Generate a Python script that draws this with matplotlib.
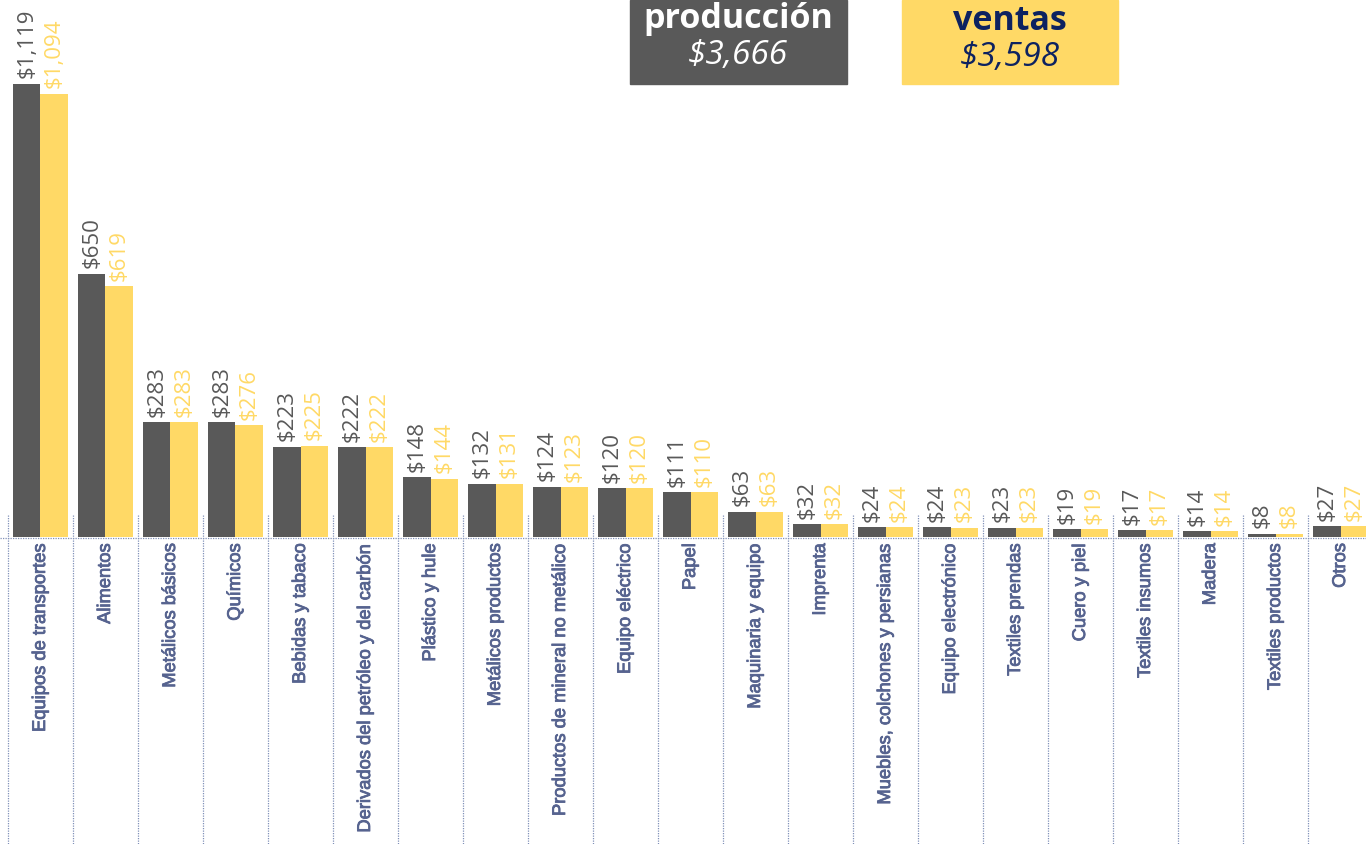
import matplotlib.pyplot as plt
import matplotlib.patheffects as pe
from matplotlib.patches import Rectangle

categorias = ["Equipos de transportes", "Alimentos", "Metálicos básicos", "Químicos",
              "Bebidas y tabaco", "Derivados del petróleo y del carbón", "Plástico y hule",
              "Metálicos productos", "Productos de mineral no metálico", "Equipo eléctrico",
              "Papel", "Maquinaria y equipo", "Imprenta", "Muebles, colchones y persianas",
              "Equipo electrónico", "Textiles prendas", "Cuero y piel", "Textiles insumos",
              "Madera", "Textiles productos", "Otros"]
produccion = [1119, 650, 283, 283, 223, 222, 148, 132, 124, 120, 111, 63, 32, 24, 24, 23, 19, 17, 14, 8, 27]
ventas = [1094, 619, 283, 276, 225, 222, 144, 131, 123, 120, 110, 63, 32, 24, 23, 23, 19, 17, 14, 8, 27]
total_produccion = "$3,666"
total_ventas = "$3,598"

gris = "#595959"
amarillo = "#FFD966"
azul = "#0D2260"
etiqueta = "#56638F"

fig = plt.figure(figsize=(13.66, 8.44), dpi=100)
ax = fig.add_axes([0, 0, 1, 1])
ax.set_xlim(-0.623, 20.392)
ax.set_ylim(-758, 1326)
ax.axis("off")

x = list(range(len(categorias)))
w = 0.42
ax.bar([i - w / 2 for i in x], produccion, w, color=gris)
ax.bar([i + w / 2 for i in x], ventas, w, color=amarillo)

for i in x:
    ax.annotate(f"${produccion[i]:,}", (i - w / 2, produccion[i]), xytext=(0, 4),
                textcoords="offset points", rotation=90, ha="center", va="bottom",
                fontsize=16, color=gris, family="Open Sans")
    ax.annotate(f"${ventas[i]:,}", (i + w / 2, ventas[i]), xytext=(0, 4),
                textcoords="offset points", rotation=90, ha="center", va="bottom",
                fontsize=16, color=amarillo, family="Open Sans")
    ax.text(i, -15, categorias[i], rotation=90, ha="center", va="top",
            fontsize=13.2, color=etiqueta, family="Liberation Sans",
            path_effects=[pe.withStroke(linewidth=0.6, foreground=etiqueta)])
    ax.plot([i - 0.5, i - 0.5], [54, -758], color="#8090B8", lw=0.9, ls=(0, (1, 1)))

ax.plot([-0.623, 20.392], [-3, -3], color="#8090B8", lw=0.9, ls=(0, (1, 1)))

# cajas de totales
fig.patches.append(Rectangle((630 / 1366, 1 - 84 / 844), 217 / 1366, 84 / 844,
                             transform=fig.transFigure, color=gris))
fig.patches.append(Rectangle((902 / 1366, 1 - 84 / 844), 216 / 1366, 84 / 844,
                             transform=fig.transFigure, color=amarillo))
fig.text(738 / 1366, 1 - 19 / 844, "producción", ha="center", va="center",
         fontsize=24.5, weight="bold", color="white", family="Open Sans")
fig.text(738 / 1366, 1 - 55 / 844, total_produccion, ha="center", va="center",
         fontsize=24, style="italic", color="white", family="Open Sans")
fig.text(1010 / 1366, 1 - 21 / 844, "ventas", ha="center", va="center",
         fontsize=24.5, weight="bold", color=azul, family="Open Sans")
fig.text(1010 / 1366, 1 - 58 / 844, total_ventas, ha="center", va="center",
         fontsize=24, style="italic", color=azul, family="Open Sans")

fig.savefig("out.png", dpi=100)
